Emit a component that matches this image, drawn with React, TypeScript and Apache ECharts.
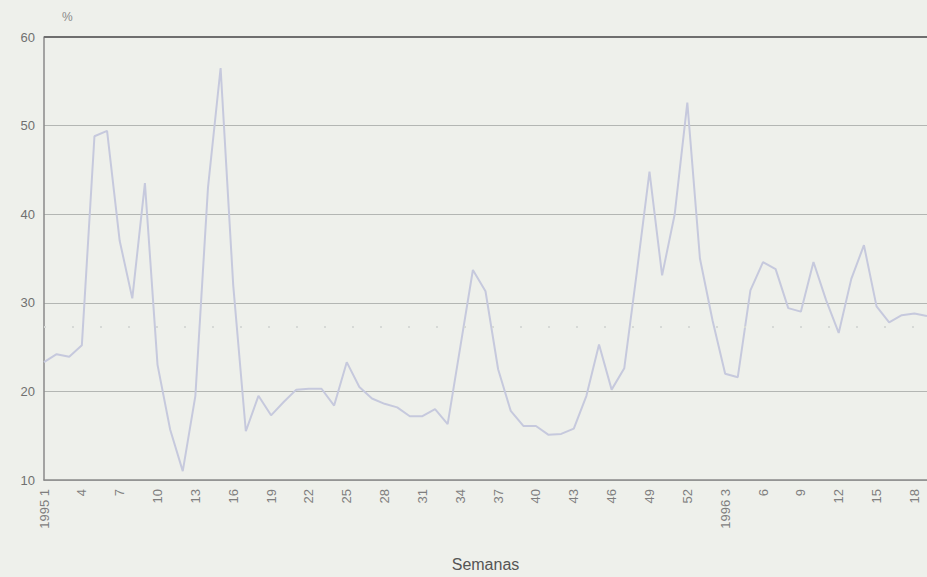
import React, { useEffect, useRef } from "react";
import * as echarts from "echarts";

// Week labels (1995: weeks 1-52, 1996: weeks 1-19)
const weeks1995: string[] = [
  "1","2","3","4","5","6","7","8","9","10","11","12","13","14","15","16","17","18","19","20",
  "21","22","23","24","25","26","27","28","29","30","31","32","33","34","35","36","37","38","39","40",
  "41","42","43","44","45","46","47","48","49","50","51","52",
];
const weeks1996: string[] = [
  "1","2","3","4","5","6","7","8","9","10","11","12","13","14","15","16","17","18","19",
];

// Weekly values (%)
const values1995: number[] = [
  23.3, 24.2, 23.9, 25.2, 48.8, 49.4, 37.0, 30.5, 43.5, 23.0,
  15.7, 11.0, 19.5, 43.0, 56.5, 32.0, 15.5, 19.5, 17.3, 18.8,
  20.2, 20.3, 20.3, 18.4, 23.3, 20.5, 19.2, 18.6, 18.2, 17.2,
  17.2, 18.0, 16.3, 25.0, 33.7, 31.3, 22.5, 17.8, 16.1, 16.1,
  15.1, 15.2, 15.8, 19.5, 25.3, 20.2, 22.6, 33.5, 44.8, 33.1,
  40.0, 52.6,
];
const values1996: number[] = [
  35.0, 28.0, 22.0, 21.6, 31.4, 34.6, 33.8, 29.4, 29.0, 34.6,
  30.3, 26.6, 32.7, 36.5, 29.6, 27.8, 28.6, 28.8, 28.5,
];

const yTicks = { min: 10, max: 60, interval: 10 };
const refLevel = 27.3; // faint dotted reference line
const topLevel = 60;

const FONT = "'Liberation Sans', Arial, Helvetica, sans-serif";

export default function App() {
  const ref = useRef<HTMLDivElement>(null);

  useEffect(() => {
    document.body.style.margin = "0";
    if (!ref.current) return;
    const chart = echarts.init(ref.current, undefined, { renderer: "svg" });

    const categories = [
      ...weeks1995.map((w) => "1995 " + w),
      ...weeks1996.map((w) => "1996 " + w),
    ];
    const data = [...values1995, ...values1996];

    chart.setOption({
      animation: false,
      backgroundColor: "#eef0eb",
      textStyle: { fontFamily: FONT },
      grid: { left: 44, top: 37, width: 889, height: 444 },
      graphic: [
        {
          type: "text",
          left: 62,
          top: 11,
          style: { text: "%", fill: "#8a8a8a", font: `12px ${FONT}` },
        },
      ],
      xAxis: {
        type: "category",
        data: categories,
        boundaryGap: false,
        name: "Semanas",
        nameLocation: "middle",
        nameGap: 76,
        nameTextStyle: { fontSize: 16, color: "#555555", fontFamily: FONT },
        axisLine: { lineStyle: { color: "#8a8a8a", width: 1.5 } },
        axisTick: { show: false },
        axisLabel: {
          interval: 2,
          rotate: 90,
          margin: 9,
          fontSize: 13,
          color: "#7e7e7e",
          fontFamily: FONT,
          formatter: (value: string, index: number) => {
            const [year, week] = value.split(" ");
            if (index === 0) return value;
            const prev = categories[index - 3];
            if (prev && prev.split(" ")[0] !== year) return value;
            return week;
          },
        },
        splitLine: { show: false },
      },
      yAxis: {
        type: "value",
        min: yTicks.min,
        max: yTicks.max,
        interval: yTicks.interval,
        axisLine: { show: true, lineStyle: { color: "#8a8a8a", width: 1.5 } },
        axisTick: { show: false },
        axisLabel: { fontSize: 13, color: "#707070", margin: 9, fontFamily: FONT },
        splitLine: { show: true, lineStyle: { color: "#b3b6b3", width: 1 } },
      },
      series: [
        {
          type: "line",
          data,
          symbol: "none",
          lineStyle: { color: "#c6c9dd", width: 2 },
          markLine: {
            silent: true,
            symbol: "none",
            label: { show: false },
            data: [
              {
                yAxis: topLevel,
                lineStyle: { color: "#6e6e6e", width: 2, type: "solid" },
              },
              {
                yAxis: refLevel,
                lineStyle: { color: "#d6d9d6", width: 2, type: [2, 26] },
              },
            ],
          },
        },
      ],
    });

    return () => chart.dispose();
  }, []);

  return <div ref={ref} style={{ width: 927, height: 577 }} />;
}
